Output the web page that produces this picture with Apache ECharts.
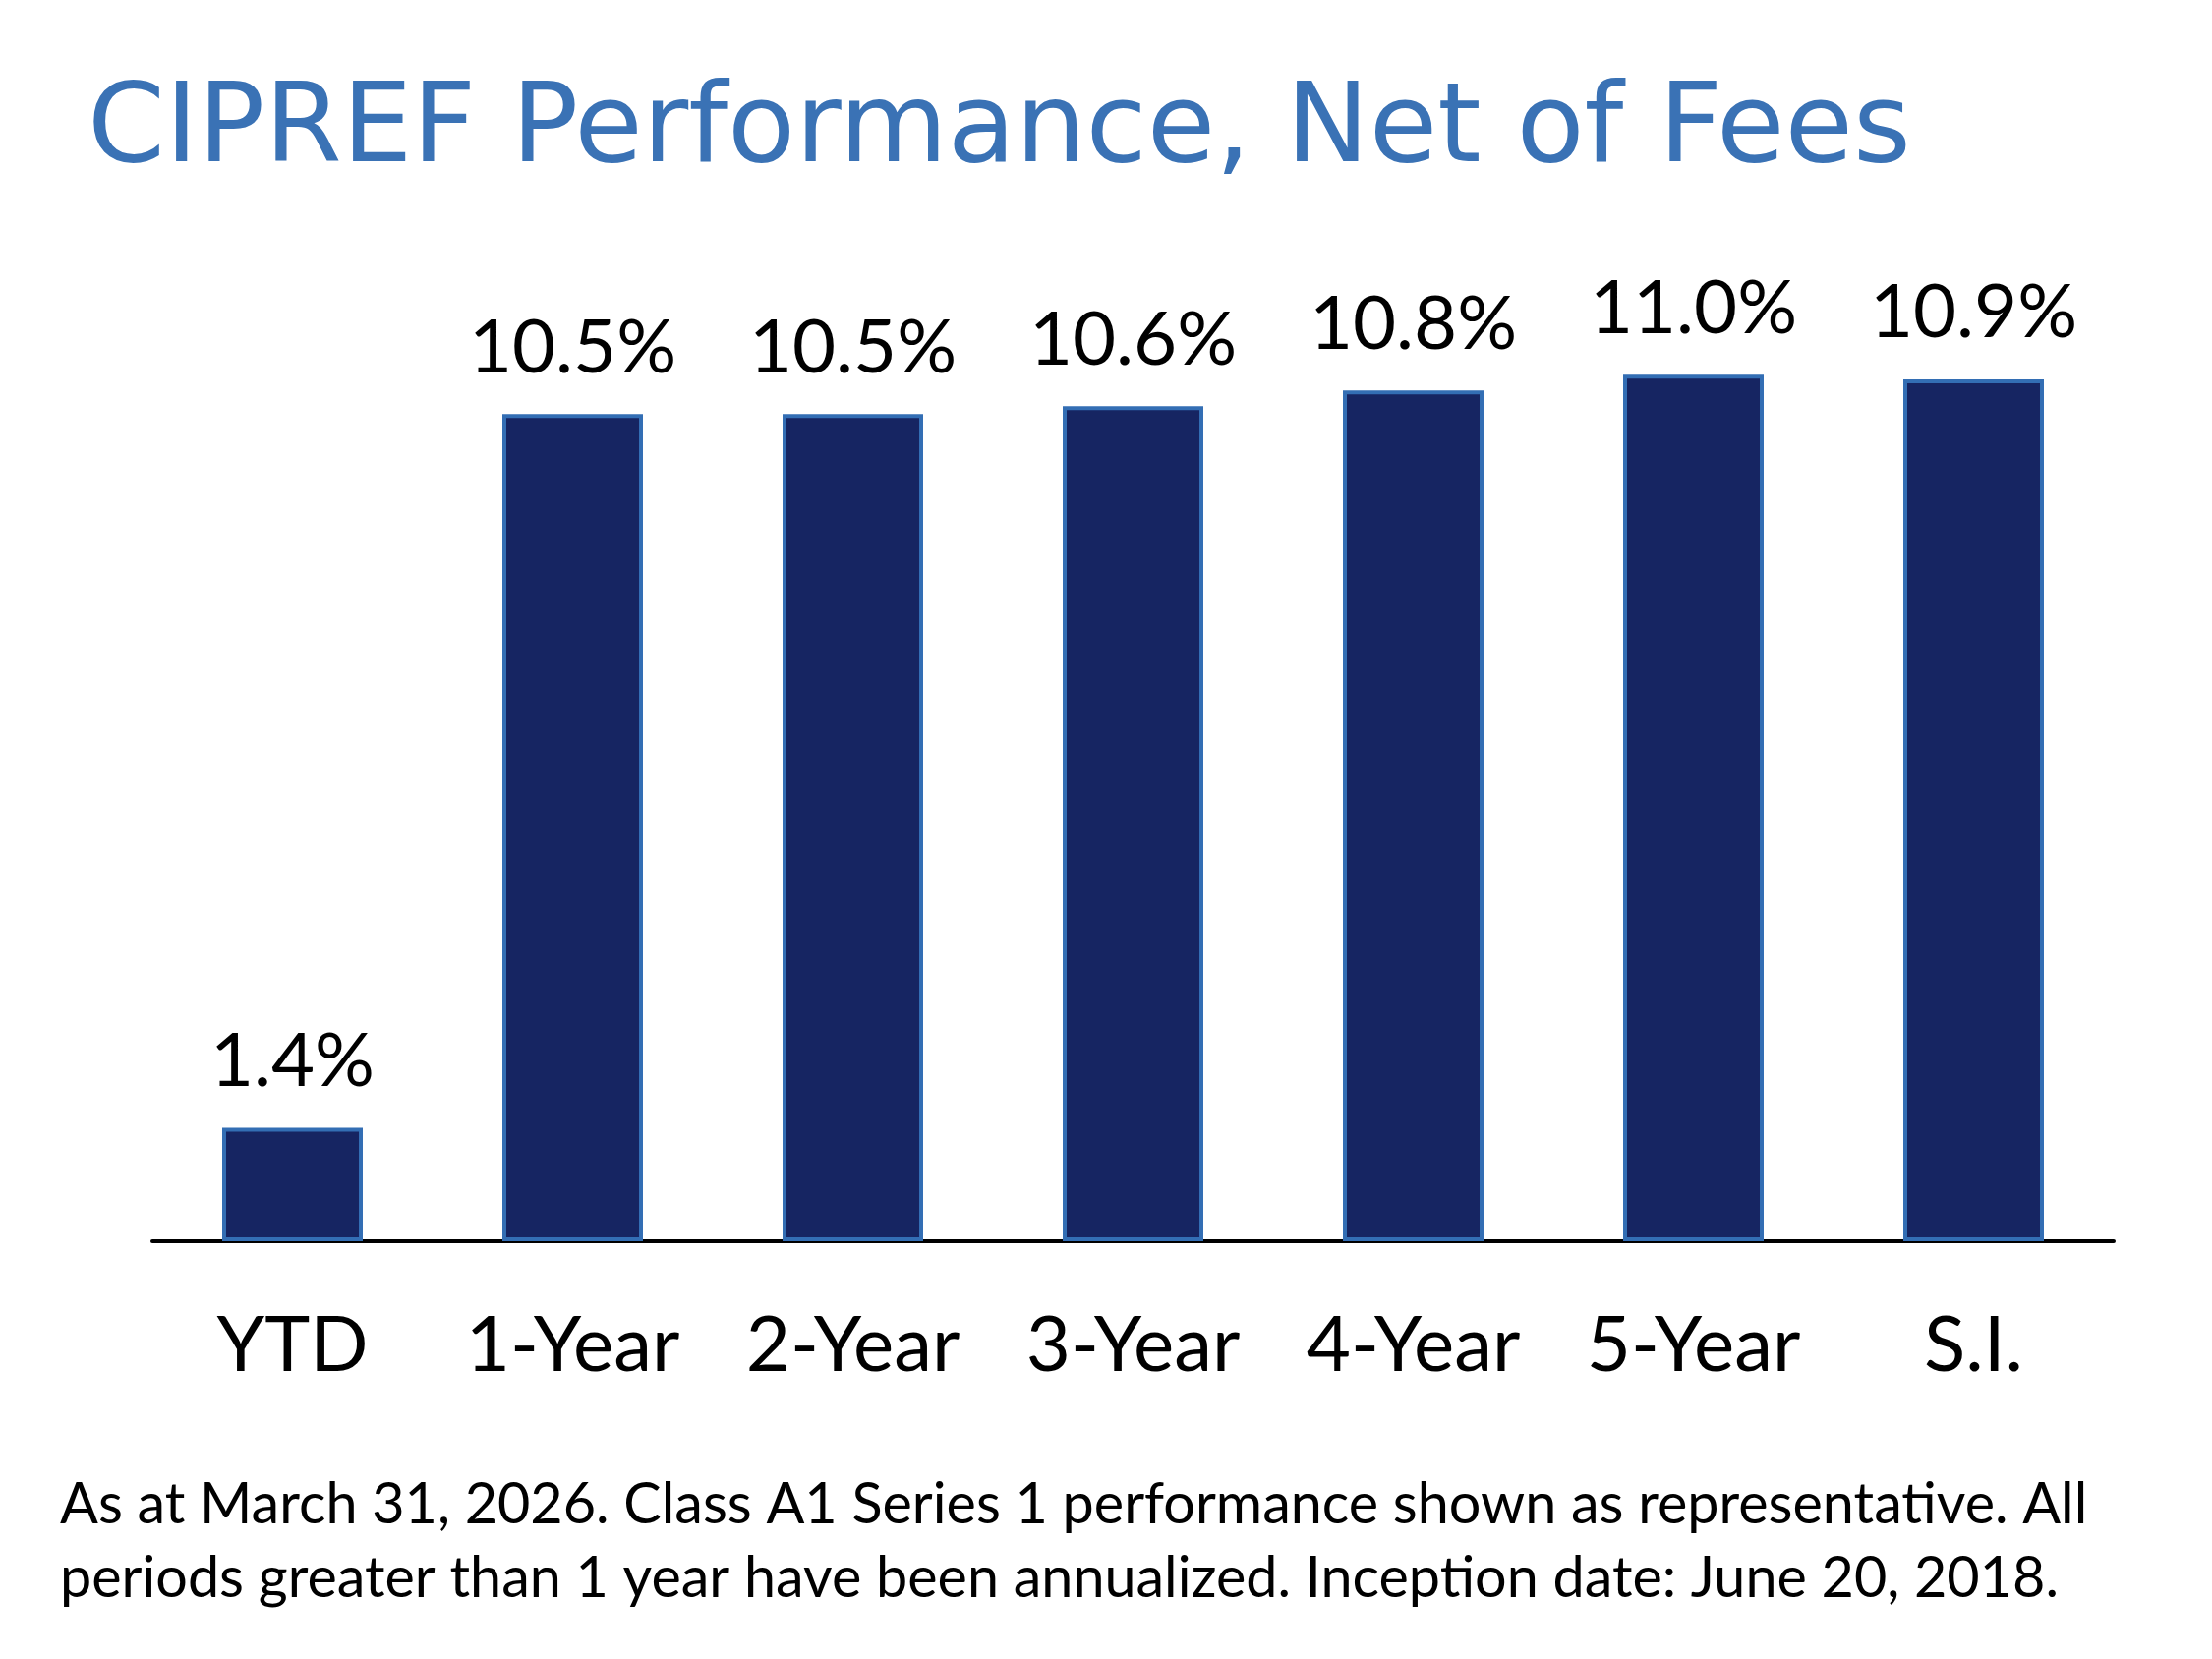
<!DOCTYPE html>
<html>
<head>
<meta charset="utf-8">
<script src="https://cdn.jsdelivr.net/npm/echarts@6/dist/echarts.min.js"></script>
<style>
html,body{margin:0;padding:0;background:#fff;}
#main{width:2250px;height:1688px;}
</style>
</head>
<body>
<div id="main"></div>
<script>
const titleText = 'CIPREF Performance, Net of Fees';
const categories = ['YTD', '1-Year', '2-Year', '3-Year', '4-Year', '5-Year', 'S.I.'];
const returns = [1.44, 10.5, 10.5, 10.6, 10.8, 11.0, 10.94];
const footnoteLines = [
  'As at March 31, 2026. Class A1 Series 1 performance shown as representative. All',
  'periods greater than 1 year have been annualized. Inception date: June 20, 2018.'
];

const chart = echarts.init(document.getElementById('main'), null, {renderer: 'canvas'});
chart.setOption({
  backgroundColor: '#ffffff',
  animation: false,
  grid: {left: 155, right: 100, top: 301, bottom: 425, containLabel: false},
  xAxis: {
    type: 'category',
    data: categories,
    axisLine: {show: true, lineStyle: {color: '#000000', width: 4}},
    axisTick: {show: false},
    axisLabel: {
      color: '#000000', fontFamily: 'Lato', fontSize: 78, lineHeight: 78,
      margin: 68, interval: 0
    }
  },
  yAxis: {
    type: 'value', min: 0, max: 12,
    show: false,
    splitLine: {show: false}
  },
  series: [{
    type: 'bar',
    data: returns,
    barWidth: 143,
    itemStyle: {color: '#162562', borderColor: '#336eb4', borderWidth: 4},
    label: {
      show: true, position: 'top', distance: 29,
      color: '#000000', fontFamily: 'Lato', fontSize: 76, lineHeight: 76,
      formatter: p => p.value.toFixed(1) + '%'
    }
  }],
  graphic: [
    {type: 'text', left: 89, top: 78, style: {text: titleText, fill: '#3a72b5', font: '113px "DejaVu Sans"'}},
    {type: 'text', left: 61, top: 1502, style: {text: footnoteLines[0], fill: '#000000', font: '57.5px Lato'}},
    {type: 'text', left: 61, top: 1577, style: {text: footnoteLines[1], fill: '#000000', font: '57.5px Lato'}}
  ]
});
</script>
</body>
</html>
